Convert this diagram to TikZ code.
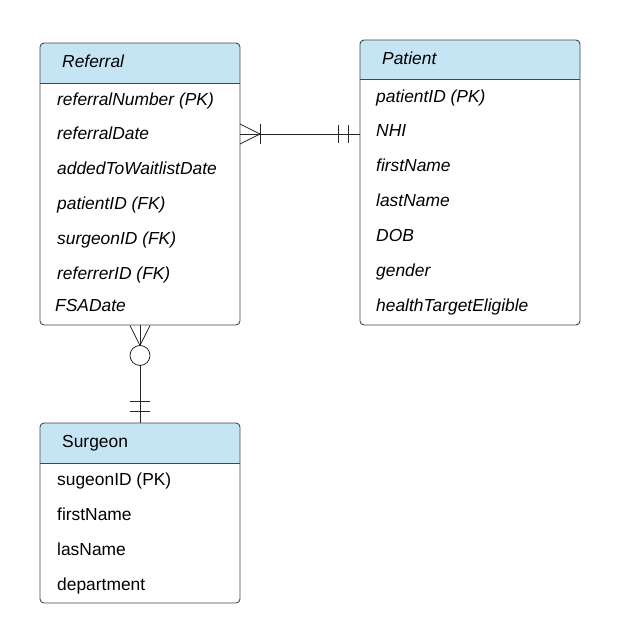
\documentclass[tikz,border=0pt]{standalone}
\usepackage{fontspec}
\setmainfont{Liberation Sans}
\usetikzlibrary{calc,positioning}
\definecolor{headblue}{RGB}{198,229,244}
\definecolor{boxgray}{RGB}{70,70,70}

\begin{document}
\begin{tikzpicture}[x=1pt, y=-1pt,
    tbl/.style = {draw=boxgray, line width=0.9pt, rounded corners=4pt, minimum width=200pt, inner sep=0pt},
    attr/.style = {anchor=west, inner sep=0pt, yshift=-1.5pt, text height=12pt, text depth=3.5pt, font=\fontsize{17.4}{20}\selectfont},
    link/.style = {draw=black!85, line width=0.8pt}]
  \useasboundingbox (0,0) rectangle (620,643);

  % Referral
  \fill[headblue, rounded corners=4pt] (40,43) rectangle (240,83);
  \fill[headblue] (40,63) rectangle (240,83);
  \node[tbl, minimum height=282pt] (referral) at (140,184) {};
  \draw[boxgray, line width=0.9pt] (referral.west |- 0,83) -- (referral.east |- 0,83);
  \node[attr] (referralhead) at (62,62) {\itshape Referral};
  \node[attr] (r1) at (57,100) {\itshape referralNumber (PK)};
  \node[attr] (r2) at (57,134) {\itshape referralDate};
  \node[attr] (r3) at (57,169) {\itshape addedToWaitlistDate};
  \node[attr] (r4) at (57,204) {\itshape patientID (FK)};
  \node[attr] (r5) at (57,239) {\itshape surgeonID (FK)};
  \node[attr] (r6) at (57,274) {\itshape referrerID (FK)};
  \node[attr] (r7) at (55,306) {\itshape FSADate};

  % Patient
  \fill[headblue, rounded corners=4pt] (360,40) rectangle (580,79);
  \fill[headblue] (360,60) rectangle (580,79);
  \node[tbl, minimum width=220pt, minimum height=285pt] (patient) at (470,182.5) {};
  \draw[boxgray, line width=0.9pt] (patient.west |- 0,79) -- (patient.east |- 0,79);
  \node[attr] (patienthead) at (382,59) {\itshape Patient};
  \node[attr] (p1) at (376,97) {\itshape patientID (PK)};
  \node[attr] (p2) at (376,131) {\itshape NHI};
  \node[attr] (p3) at (376,166) {\itshape firstName};
  \node[attr] (p4) at (376,201) {\itshape lastName};
  \node[attr] (p5) at (376,236) {\itshape DOB};
  \node[attr] (p6) at (376,271) {\itshape gender};
  \node[attr] (p7) at (376,306) {\itshape healthTargetEligible};

  % Surgeon
  \fill[headblue, rounded corners=4pt] (40,423) rectangle (240,463);
  \fill[headblue] (40,443) rectangle (240,463);
  \node[tbl, minimum height=180pt] (surgeon) at (140,513) {};
  \draw[boxgray, line width=0.9pt] (surgeon.west |- 0,463) -- (surgeon.east |- 0,463);
  \node[attr] (surgeonhead) at (62,442) {Surgeon};
  \node[attr] (s1) at (57,480) {sugeonID (PK)};
  \node[attr] (s2) at (57,515) {firstName};
  \node[attr] (s3) at (57,550) {lasName};
  \node[attr] (s4) at (57,585) {department};

  % Referral >|----|| Patient
  \coordinate (ra) at (240,134);
  \coordinate (pa) at (patient.west |- ra);
  \draw[link] (ra) -- (pa);
  \draw[link] ($(ra)+(0,-10)$) -- ($(ra)+(20,0)$) -- ($(ra)+(0,10)$);
  \draw[link] ($(ra)+(20,-10)$) -- ($(ra)+(20,10)$);
  \draw[link] ($(pa)+(-21,-9)$) -- ($(pa)+(-21,9)$);
  \draw[link] ($(pa)+(-11,-9)$) -- ($(pa)+(-11,9)$);

  % Referral >O----|| Surgeon
  \coordinate (rb) at (referral.south);
  \coordinate (sb) at (surgeon.north);
  \draw[link] (rb) -- ($(rb)+(0,20)$);
  \draw[link] ($(rb)+(0,40)$) -- (sb);
  \draw[link] ($(rb)+(-10,0)$) -- ($(rb)+(0,20)$) -- ($(rb)+(10,0)$);
  \draw[link] ($(rb)+(0,30)$) circle (10pt);
  \draw[link] ($(sb)+(-10,-21)$) -- ($(sb)+(10,-21)$);
  \draw[link] ($(sb)+(-10,-11)$) -- ($(sb)+(10,-11)$);

\end{tikzpicture}
\end{document}
